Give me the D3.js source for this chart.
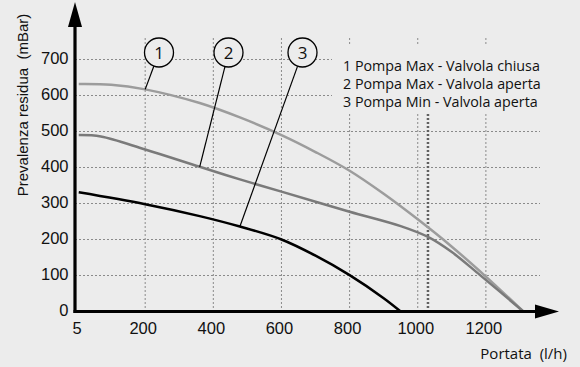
<!DOCTYPE html>
<html><head><meta charset="utf-8">
<script src="https://cdn.jsdelivr.net/npm/d3@7"></script>
<style>body{margin:0;background:#ececec}svg{display:block}text{white-space:pre}</style>
</head><body>
<svg id="c" width="580" height="367"></svg>
<script>
const xTicks = [5, 200, 400, 600, 800, 1000, 1200];
const yTicks = [0, 100, 200, 300, 400, 500, 600, 700];
const gridX = [200, 400, 600, 800, 1000, 1200];
const curve1 = [[5,632],[100,630],[200,617],[360,579],[478,539],[600,490],[700,443],[800,391],[900,327],[1000,256],[1100,180],[1200,97],[1310,0]];
const curve2 = [[5,490],[70,486],[200,450],[360,402],[478,367],[600,333],[800,277],[950,237],[1030,207],[1100,165],[1183,101],[1310,0]];
const curve3 = [[5,331],[200,298],[360,265],[478,236],[600,200],[700,155],[800,101],[900,37],[950,0]];
const limitX = 1030;
const legendLines = ["1 Pompa Max - Valvola chiusa","2 Pompa Max - Valvola aperta","3 Pompa Min - Valvola aperta"];
const labels = [{n:"1", cx:159, at:[200,617]},{n:"2", cx:228.5, at:[360,402]},{n:"3", cx:302.5, at:[478,236]}];

const svg = d3.select("#c");
svg.append("rect").attr("width",580).attr("height",367).attr("fill","#ececec");
const x = d3.scaleLinear().domain([-6, 1400]).range([75, 75 + 1406*0.3407]);
const y = d3.scaleLinear().domain([0, 700]).range([311.5, 59.5]);

const grid = svg.append("g").attr("stroke","#8a8a8a").attr("stroke-width",1).attr("stroke-dasharray","2,2");
grid.selectAll("line.h").data(yTicks.filter(d=>d>0)).join("line")
  .attr("x1",75).attr("x2",540).attr("y1",d=>y(d)).attr("y2",d=>y(d));
grid.selectAll("line.v").data(gridX).join("line")
  .attr("x1",d=>x(d)).attr("x2",d=>x(d)).attr("y1",38).attr("y2",311);

// legend background
svg.append("rect").attr("x",332).attr("y",46).attr("width",214).attr("height",67).attr("fill","#ececec");
const lg = svg.append("g").attr("font-family","'Open Sans', sans-serif").attr("font-size",14.3).attr("fill","#111");
lg.selectAll("text").data(legendLines).join("text")
  .attr("x",343).attr("y",(d,i)=>71+i*18).text(d=>d);

// limit line
svg.append("line").attr("x1",x(limitX)).attr("x2",x(limitX)).attr("y1",114).attr("y2",311)
  .attr("stroke","#606060").attr("stroke-width",2.5).attr("stroke-dasharray","2,2");

const line = d3.line().x(d=>x(d[0])).y(d=>y(d[1])).curve(d3.curveCatmullRom.alpha(0.5));
svg.append("path").attr("d",line(curve1)).attr("fill","none").attr("stroke","#9c9c9c").attr("stroke-width",2.5);
svg.append("path").attr("d",line(curve2)).attr("fill","none").attr("stroke","#7a7a7a").attr("stroke-width",2.5);
svg.append("path").attr("d",line(curve3)).attr("fill","none").attr("stroke","#000").attr("stroke-width",2.5);

// callouts
const cy = 52.5, r = 14.5;
labels.forEach(l=>{
  const px = x(l.at[0]), py = y(l.at[1]);
  const ang = Math.atan2(py-cy, px-l.cx);
  svg.append("line").attr("x1",l.cx+r*Math.cos(ang)).attr("y1",cy+r*Math.sin(ang))
    .attr("x2",px).attr("y2",py).attr("stroke","#000").attr("stroke-width",1.2);
  svg.append("circle").attr("cx",l.cx).attr("cy",cy).attr("r",r).attr("fill","#ececec").attr("stroke","#000").attr("stroke-width",1.3);
  svg.append("text").attr("x",l.cx).attr("y",cy+6).attr("text-anchor","middle")
    .attr("font-family","'Open Sans', sans-serif").attr("font-size",17).attr("fill","#111").text(l.n);
});

// axes
svg.append("line").attr("x1",75).attr("x2",75).attr("y1",313).attr("y2",25).attr("stroke","#000").attr("stroke-width",3.2);
svg.append("path").attr("d","M68,27 L75,2 L82,27 Z").attr("fill","#000");
svg.append("line").attr("x1",73.5).attr("x2",537).attr("y1",311.5).attr("y2",311.5).attr("stroke","#000").attr("stroke-width",3.2);
svg.append("path").attr("d","M535,304.5 L559,311.5 L535,318.5 Z").attr("fill","#000");

const tf = svg.append("g").attr("font-family","'Liberation Sans', Arial, sans-serif").attr("font-size",16.5).attr("fill","#111");
tf.selectAll("text.y").data(yTicks).join("text")
  .attr("x",68.5).attr("y",d=>y(d)+4).attr("text-anchor","end").text(d=>d);
tf.selectAll("text.x").data(xTicks).join("text")
  .attr("x",d=> d===5 ? 77 : x(d)-2).attr("y",334).attr("text-anchor","middle").text(d=>d);

svg.append("text").attr("transform","translate(28,105) rotate(-90)").attr("text-anchor","middle")
  .attr("font-family","'Liberation Sans', Arial, sans-serif").attr("font-size",15).attr("fill","#111")
  .text("Prevalenza residua  (mBar)");
svg.append("text").attr("x",567).attr("y",359).attr("text-anchor","end")
  .attr("font-family","'Open Sans', sans-serif").attr("font-size",15).attr("fill","#111")
  .text("Portata  (l/h)");
</script>
</body></html>
